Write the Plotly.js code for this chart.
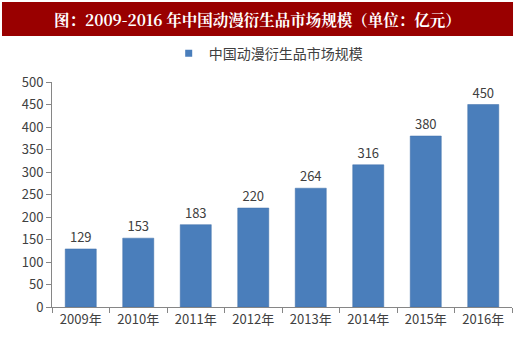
<!DOCTYPE html>
<html>
<head>
<meta charset="utf-8">
<script src="https://cdn.plot.ly/plotly-3.0.1.min.js"></script>
<style>html,body{margin:0;padding:0;background:#fff;}#chart{width:520px;height:351px;}</style>
</head>
<body>
<div id="chart"></div>
<script>
const categories = ["2009年","2010年","2011年","2012年","2013年","2014年","2015年","2016年"];
const values = [129,153,183,220,264,316,380,450];
const seriesName = "中国动漫衍生品市场规模";
const chartTitle = "图：2009-2016 年中国动漫衍生品市场规模（单位：亿元）";
const yTicks = [0,50,100,150,200,250,300,350,400,450,500];

const font = "'Microsoft YaHei','Noto Sans CJK SC','DejaVu Sans',sans-serif";
const barColor = '#4a7ebb';

const trace = {
  type: 'bar',
  x: categories,
  y: values,
  name: seriesName,
  showlegend: false,
  text: values.map(String),
  textposition: 'outside',
  textfont: {family: font, size: 13, color: '#404040'},
  cliponaxis: false,
  marker: {color: barColor, line: {color: '#3e6ea8', width: 0.5}},
  hoverinfo: 'none'
};

// legend entry with a small square key
const legendTrace = {
  type: 'scatter', mode: 'markers',
  x: [categories[0]], y: [null],
  name: seriesName,
  marker: {symbol: 'square', size: 7, color: barColor},
  hoverinfo: 'none'
};

const layout = {
  width: 520, height: 351,
  margin: {l: 52, r: 8, t: 82, b: 44},
  paper_bgcolor: '#fff', plot_bgcolor: '#fff',
  bargap: 0.46,
  showlegend: true,
  legend: {
    orientation: 'h', x: 0.47, xanchor: 'center', y: 1.055, yanchor: 'bottom',
    font: {family: font, size: 14, color: '#404040'},
    itemwidth: 30
  },
  xaxis: {
    type: 'category',
    showline: true, linecolor: '#868686', linewidth: 1,
    ticks: 'outside', ticklen: 5, tickcolor: '#868686',
    tickson: 'boundaries',
    tickfont: {family: font, size: 13, color: '#404040'},
    showgrid: false, zeroline: false
  },
  yaxis: {
    range: [0, 500],
    tickvals: yTicks,
    showline: true, linecolor: '#868686', linewidth: 1,
    ticks: 'outside', ticklen: 5, tickcolor: '#868686',
    tickfont: {family: font, size: 13, color: '#404040'},
    showgrid: false, zeroline: false
  },
  shapes: [{
    type: 'rect', xref: 'paper', yref: 'paper',
    x0: -0.1087, x1: 1.0022, y0: 1.2044, y1: 1.3556,
    fillcolor: '#990000', line: {width: 0}, layer: 'below'
  }],
  annotations: [{
    xref: 'paper', yref: 'paper', x: 0.4467, y: 1.28, xanchor: 'center', yanchor: 'middle',
    text: '<b>' + chartTitle + '</b>', showarrow: false,
    font: {family: "'Noto Serif CJK SC','Noto Sans CJK SC',serif", size: 15.5, color: '#ffffff'}
  }]
};

Plotly.newPlot('chart', [trace, legendTrace], layout, {displayModeBar: false, staticPlot: true});
</script>
</body>
</html>
